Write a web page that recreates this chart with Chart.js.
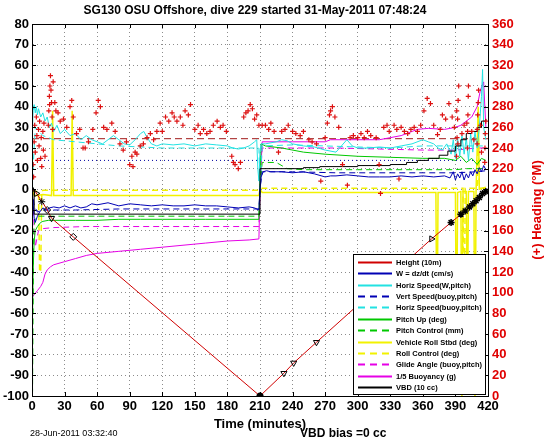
<!DOCTYPE html>
<html>
<head>
<meta charset="utf-8">
<script src="https://cdn.jsdelivr.net/npm/chart.js@4.4.1/dist/chart.umd.min.js"></script>
<style>
  html, body { margin: 0; padding: 0; background: #fff; }
  #wrap { width: 546px; height: 442px; }
</style>
</head>
<body>
<div id="wrap"><canvas id="diveChart" width="546" height="442"></canvas></div>
<script>
// ---- data (time in minutes, values in left-axis units unless noted) ----
const heightTime = [0, 3, 8, 13, 18, 38, 210, 232, 241, 262, 368, 386, 400, 410, 418];
const heightVals = [0, -1, -5, -9, -14, -23, -100, -89, -84, -74, -24, -16, -10, -5, -1];

const markerTime = [0, 4, 9, 14, 18, 38, 210, 232, 241, 262, 368, 386, 395, 399, 403, 406, 409, 412, 415, 418];
const markerVals = [0, -2, -6, -10, -14, -23, -100, -89, -84, -74, -24, -16, -12, -10.5, -8.5, -7, -5.5, -4, -2, -1];

const wTime = [0, 1, 2, 3, 5, 7, 10, 13, 16, 20, 25, 30, 35, 40, 45, 50, 55, 60, 70, 80, 90, 100, 110, 120, 130, 140, 150, 160, 170, 180, 190, 200, 205, 209, 210, 211, 213, 216, 220, 230, 240, 250, 260, 270, 275, 280, 290, 300, 310, 320, 330, 340, 350, 360, 370, 380, 385, 388, 390, 392, 394, 396, 398, 400, 402, 404, 406, 408, 410, 412, 414, 416, 418];
const wVals = [0, -6, -14, -16, -13, -11, -9, -10, -9, -8.5, -9, -8, -9, -8, -9, -8.5, -7, -7.5, -6.5, -8, -7, -7.5, -8, -7.5, -8, -8, -7.5, -8, -8, -8.5, -9, -8.5, -9, -10, 0, 6, 8.5, 9, 8.5, 8.5, 8, 8.5, 7.5, 6, 6.5, 6.5, 7, 6.5, 6, 6, 6, 6.5, 6, 6.5, 6, 6.5, 5.5, 8.5, 4.5, 7.5, 5.5, 8.5, 4.5, 7.5, 5.5, 8.5, 6.5, 9.5, 7.5, 10.5, 8.5, 11.5, 9.5];

const hsTime = [0, 0.5, 1, 2, 3, 4, 5, 6, 8, 10, 12, 14, 16, 18, 20, 23, 26, 30, 35, 40, 45, 50, 55, 60, 65, 70, 75, 80, 85, 90, 95, 100, 103, 106, 110, 115, 120, 130, 140, 150, 160, 170, 180, 185, 190, 195, 200, 205, 207, 208, 209, 210, 211, 215, 220, 225, 230, 235, 240, 250, 260, 270, 280, 285, 290, 295, 300, 310, 320, 330, 340, 350, 360, 365, 370, 374, 378, 382, 386, 388, 390, 392, 394, 396, 398, 400, 402, 404, 406, 408, 410, 412, 414, 415, 416, 418];
const hsVals = [0, 30, 38, 41, 37, 40, 36, 39, 35, 37, 33, 35, 30, 32, 28, 31, 27, 29, 26, 27, 24, 26, 24, 23, 22, 24, 26, 24, 22, 21.5, 24, 27, 28, 25, 22, 21, 22, 21.5, 22, 21, 22, 21.5, 21, 20, 19.5, 20, 21, 23, 24, 10, 4, 18, 22, 22, 22.5, 23, 24, 23.5, 22, 21, 20.5, 19, 18, 21, 24, 21, 20, 20, 20.5, 20, 21, 22, 24, 23, 22, 20, 19, 22, 17, 24, 15, 25, 16, 26, 17, 25, 14, 27, 18, 28, 20, 30, 45, 58, 30, 24];

const vsTime = [0, 2, 5, 10, 20, 40, 80, 120, 160, 200, 209, 210, 212, 240, 280, 320, 360, 390, 410, 418];
const vsVals = [0, -8, -11, -10, -10, -10, -9.5, -9.5, -9.5, -9.5, -9.5, 0, 8.5, 8.5, 8, 8, 8, 8, 8.5, 9];

const hbTime = [0, 3, 10, 20, 40, 60, 80, 100, 120, 140, 160, 180, 200, 209, 210, 212, 240, 270, 300, 330, 360, 380, 400, 418];
const hbVals = [0, 30, 26, 24, 23, 22, 21, 20.5, 20, 20, 20, 20, 20, 20, 0, 21, 21.5, 21, 20.5, 20, 21, 21, 21, 21];

const pitchTime = [0, 0.3, 1, 2, 3, 5, 8, 10, 15, 20, 40, 60, 80, 100, 120, 140, 160, 180, 200, 209, 210, 211, 215, 230, 250, 270, 300, 330, 360, 380, 390, 395, 400, 405, 410, 414, 418];
const pitchVals = [0, -70, -40, -25, -20, -18, -16, -15.5, -15, -15, -15, -15, -14.5, -14.5, -14.5, -14.5, -14.5, -14.5, -14.5, -14.5, 5, 22, 21, 20, 18, 17, 16, 15.5, 15, 15, 14, 16, 13, 15, 12, 15, 14];

const pcTime = [0, 0.5, 1.5, 3, 6, 10, 20, 60, 100, 150, 200, 209, 210, 212, 225, 235, 250, 300, 350, 390, 400, 410, 418];
const pcVals = [0, -98, -20, -14, -13, -13, -13, -13, -13, -13, -13, -13, 0, 13, 13, 10, 9.5, 9.5, 9.5, 9.5, 10, 10, 10];

const rollTime = [0, 2, 5, 10, 18, 19, 20, 30, 36, 37, 38, 50, 100, 150, 200, 209, 210, 212, 250, 300, 350, 372, 373, 374, 380, 390, 391, 392, 395, 396, 397, 400, 401, 402, 407, 408, 409, 411, 412, 418];
const rollVals = [0, -3, -3, -2.5, -3, 38, -3, -3, -3, 38, -3, -3, -3, -3, -3, -3, 0, -1.5, -1.5, -1.5, -1.5, -1.5, -80, -1.5, -1.5, -1.5, -90, -1.5, -1, -100, -1, -1, -70, -1, -1, -100, -1, 40, 0, 1];

const rcTime = [0, 3, 6, 7, 8, 9, 10, 20, 60, 120, 180, 209, 210, 212, 250, 300, 350, 390, 397, 398, 399, 405, 410, 411, 412, 418];
const rcVals = [0, -1, -1, -40, -40, -1, -0.5, -0.5, -0.5, -0.5, -0.5, -0.5, 0, 0.5, 0.5, 0.5, 0.5, 0.5, 0.5, -90, 0.5, 0.5, 0.5, 30, 0.5, 0.5];

const glideTime = [0, 3, 6, 10, 20, 50, 100, 150, 200, 209, 210, 212, 240, 280, 320, 360, 390, 400, 410, 418];
const glideVals = [0, -28, -20, -19, -18.5, -18, -18, -18, -18, -18, 0, 20, 20, 20, 19.5, 19, 19, 19.5, 20, 20];

const buoyTime = [0, 0.5, 2, 5, 8, 10, 12, 14, 17, 20, 30, 40, 50, 60, 80, 100, 120, 140, 160, 180, 200, 209, 210, 212, 240, 270, 275, 300, 320, 340, 355, 365, 380, 390, 395, 400, 405, 410, 413, 416, 418];
const buoyVals = [0, -52, -51, -49, -47, -45, -41, -39, -37.5, -36.5, -35, -33.5, -32, -31, -30, -29, -28, -27, -26, -25, -24.5, -24, 0, 23, 23, 23, 24, 24, 24, 26, 29, 29.5, 29, 30, 31, 33, 35, 40, 48, 52, 30];

const vbdTime = [0, 2, 210, 250, 265, 300, 330, 345, 355, 365, 375, 383, 390, 395, 400, 405, 410, 414, 418];
const vbdVals = [0, -12, 10, 10.5, 11, 11.5, 12, 13, 14, 15, 16.5, 18.5, 21, 24, 27, 28, 30, 33, 34];

// heading, right axis, degrees magnetic
const headingTime = [1, 1.5, 2, 2.5, 3, 4, 4.5, 5, 6, 6.5, 7, 8, 8.5, 9, 10, 10.5, 11, 12, 15, 15.5, 16, 16.2, 16.5, 17, 17.5, 18, 18.5, 19, 19.5, 21, 22, 24, 26, 29, 32, 35, 36.6, 38, 41, 44, 47, 49, 52, 56, 59, 61, 63, 66, 69, 73.5, 76.6, 81, 84, 87, 90, 92, 93, 95, 96.6, 99.7, 102.6, 106, 109, 112, 115, 118, 120, 123, 126, 129, 131, 133.5, 136.6, 139, 141, 144, 146, 150, 153, 155, 158, 161, 164, 167, 170.5, 173.5, 176, 179, 184, 185.5, 187, 190, 192, 195, 197, 199, 201, 203, 205, 207, 209, 212, 215, 218, 220, 223, 227, 230, 233, 236, 240, 243, 247, 250, 255, 258, 262, 266, 270, 272, 274, 275, 276.7, 279, 282.5, 286, 290.5, 293, 296, 300, 303, 306, 309, 312, 317, 319.7, 321, 324, 327, 329, 333.5, 336, 338, 340, 343, 346, 349, 352, 355, 358, 361, 364, 367, 370, 373.5, 376, 378, 381, 384, 387, 389, 391, 391.2, 391.5, 392, 392.2, 392.5, 393, 396, 398, 400.5, 401, 401.2, 401.5, 401.8, 402, 405, 407, 410, 410.2, 410.5, 411, 411.3, 413, 414, 417, 417.2, 417.5, 418];
const headingDeg = [224, 212, 246, 262, 236, 270, 252, 228, 258, 242, 266, 230, 250, 222, 256, 238, 264, 232, 262, 276, 290, 282, 300, 310, 296, 284, 270, 258, 304, 284, 276, 274, 266, 268, 260, 280, 286, 270, 254, 258, 240, 240, 246, 258, 274, 286, 280, 260, 258, 264, 256, 244, 238, 246, 224, 232, 222, 236, 234, 242, 244, 250, 254, 248, 256, 264, 256, 270, 266, 274, 270, 266, 270, 262, 276, 272, 282, 258, 262, 254, 258, 254, 256, 262, 266, 260, 262, 256, 232, 226, 224, 220, 226, 270, 274, 276, 282, 278, 268, 272, 262, 262, 262, 258, 264, 256, 236, 256, 258, 262, 256, 254, 252, 256, 248, 246, 244, 208, 250, 264, 272, 276, 280, 270, 260, 224, 204, 250, 252, 250, 254, 250, 256, 252, 250, 224, 196, 260, 262, 256, 262, 258, 210, 260, 256, 254, 258, 260, 256, 262, 276, 288, 283, 262, 253, 258, 272, 268, 283, 270, 260, 232, 276, 250, 268, 244, 286, 300, 254, 262, 264, 240, 256, 272, 290, 300, 256, 248, 244, 258, 272, 284, 296, 262, 236, 226, 240, 254, 266];

const headingTargetTime = [0, 420];
const headingTargetDeg = [249, 249];
const wDesiredTime = [0, 420];
const wDesiredVals = [14, 14];

const xTicks = { min: 0, max: 420, step: 30 };
const yTicks = { min: -100, max: 80, step: 10 };
const y2Ticks = { min: 0, max: 360, step: 20 };

// ---- helpers ----
const pts = (ts, vs) => ts.map((t, i) => ({ x: t, y: vs[i] }));
const FONT = '"Liberation Sans", Arial, Helvetica, sans-serif';
Chart.defaults.font.family = FONT;

function line(label, ts, vs, color, extra) {
  return Object.assign({
    label: label,
    data: pts(ts, vs),
    borderColor: color,
    backgroundColor: color,
    borderWidth: 1,
    pointRadius: 0,
    tension: 0,
    yAxisID: 'y'
  }, extra || {});
}

const DASH = [6, 4];
const datasets = [
  line('Height (10m)', heightTime, heightVals, '#d00000', { order: 2 }),
  line('W = dz/dt (cm/s)', wTime, wVals, '#0000b4', { order: 3 }),
  line('Horiz Speed(W,pitch)', hsTime, hsVals, '#22e2e2', { order: 4 }),
  line('Vert Speed(buoy,pitch)', vsTime, vsVals, '#0000b4', { borderDash: DASH, order: 5 }),
  line('Horiz Speed(buoy,pitch)', hbTime, hbVals, '#22e2e2', { borderDash: DASH, order: 6 }),
  line('Pitch Up (deg)', pitchTime, pitchVals, '#00c800', { order: 7 }),
  line('Pitch Control (mm)', pcTime, pcVals, '#00c800', { borderDash: DASH, order: 8 }),
  line('Vehicle Roll Stbd (deg)', rollTime, rollVals, '#f2f200', { borderWidth: 1.5, order: 9 }),
  line('Roll Control (deg)', rcTime, rcVals, '#f2f200', { borderDash: DASH, borderWidth: 1.5, order: 10 }),
  line('Glide Angle (buoy,pitch)', glideTime, glideVals, '#e600e6', { borderDash: DASH, order: 11 }),
  line('1/5 Buoyancy (g)', buoyTime, buoyVals, '#e600e6', { order: 12 }),
  line('VBD (10 cc)', vbdTime, vbdVals, '#000000', { stepped: true, order: 1 }),
  line('w desired', wDesiredTime, wDesiredVals, '#0000a0', { borderDash: [1, 3], hideLegend: true, order: 14 }),
  line('heading target', headingTargetTime, headingTargetDeg, '#a01818', { borderDash: [7, 4], yAxisID: 'y2', hideLegend: true, order: 13 }),
  line('heading', headingTime, headingDeg, '#dd1111', {
    yAxisID: 'y2', showLine: false, pointStyle: 'cross', pointRadius: 2.5, borderWidth: 1.2, hideLegend: true, order: 0
  }),
  line('markers', markerTime, markerVals, '#000000', {
    showLine: false, hideLegend: true, order: -1, borderWidth: 1, pointRadius: 3.5,
    pointStyle: ['triangle', 'triangle', 'star', 'rectRot', 'triangle', 'rectRot', 'star', 'triangle', 'triangle', 'triangle', 'triangle', 'star', 'star', 'star', 'star', 'star', 'star', 'star', 'star', 'star'],
    pointRotation: [0, 90, 0, 0, 180, 0, 0, 180, 180, 180, 90, 0, 0, 0, 0, 0, 0, 0, 0, 0],
    backgroundColor: ['rgba(0,0,0,0)', 'rgba(0,0,0,0)', '#000', 'rgba(0,0,0,0)', 'rgba(0,0,0,0)', 'rgba(0,0,0,0)', '#000', 'rgba(0,0,0,0)', 'rgba(0,0,0,0)', 'rgba(0,0,0,0)', 'rgba(0,0,0,0)', '#000', '#000', '#000', '#000', '#000', '#000', '#000', '#000', '#000'],
    pointBorderWidth: [1, 1, 1, 1, 1, 1, 2.5, 1, 1, 1, 1, 1.5, 1.5, 1.5, 1.5, 1.5, 1.5, 1.5, 1.5, 1.5]
  })
];

// frame + inward ticks like matlab axes
const framePlugin = {
  id: 'frame',
  afterDatasetsDraw(chart) {
    const { ctx, chartArea: a, scales } = chart;
    ctx.save();
    ctx.strokeStyle = '#000';
    ctx.lineWidth = 1;
    ctx.strokeRect(Math.round(a.left) + 0.5, Math.round(a.top) + 0.5, Math.round(a.right - a.left), Math.round(a.bottom - a.top));
    ctx.beginPath();
    scales.x.ticks.forEach(t => {
      const px = Math.round(scales.x.getPixelForValue(t.value)) + 0.5;
      ctx.moveTo(px, a.bottom); ctx.lineTo(px, a.bottom - 4);
      ctx.moveTo(px, a.top); ctx.lineTo(px, a.top + 4);
    });
    scales.y.ticks.forEach(t => {
      const py = Math.round(scales.y.getPixelForValue(t.value)) + 0.5;
      ctx.moveTo(a.left, py); ctx.lineTo(a.left + 4, py);
    });
    scales.y2.ticks.forEach(t => {
      const py = Math.round(scales.y2.getPixelForValue(t.value)) + 0.5;
      ctx.moveTo(a.right, py); ctx.lineTo(a.right - 4, py);
    });
    ctx.stroke();
    ctx.restore();
  }
};

const boxLegend = {
  id: 'boxLegend',
  afterDatasetsDraw(chart) {
    const { ctx, chartArea: a } = chart;
    const items = chart.data.datasets.filter(d => !d.hideLegend);
    const rowH = 11.4;
    const w = 132, h = Math.round(items.length * rowH + 3);
    const x0 = Math.round(a.right - w - 3), y0 = Math.round(a.bottom - h - 2);
    ctx.save();
    ctx.fillStyle = '#fff';
    ctx.fillRect(x0, y0, w, h);
    ctx.strokeStyle = '#000';
    ctx.lineWidth = 1;
    ctx.strokeRect(x0 + 0.5, y0 + 0.5, w, h);
    ctx.font = 'bold 7.5px ' + FONT;
    ctx.textBaseline = 'middle';
    items.forEach((d, i) => {
      const y = Math.round(y0 + 2 + rowH * (i + 0.5)) + 0.5;
      ctx.beginPath();
      ctx.setLineDash(d.borderDash ? [7, 5] : []);
      ctx.strokeStyle = d.borderColor;
      ctx.lineWidth = 2;
      ctx.moveTo(x0 + 5, y);
      ctx.lineTo(x0 + 39, y);
      ctx.stroke();
      ctx.setLineDash([]);
      ctx.fillStyle = '#000';
      ctx.fillText(d.label, x0 + 43, y);
    });
    ctx.restore();
  }
};

const textPlugin = {
  id: 'texts',
  afterDraw(chart) {
    const { ctx, chartArea: a } = chart;
    ctx.save();
    ctx.fillStyle = '#000';
    ctx.textAlign = 'center';
    ctx.textBaseline = 'middle';
    ctx.font = 'bold 12px ' + FONT;
    ctx.fillText('SG130 OSU Offshore, dive 229 started 31-May-2011 07:48:24', 255, 11);
    ctx.textAlign = 'left';
    ctx.font = '9px ' + FONT;
    ctx.fillText('28-Jun-2011 03:32:40', 30, 434);
    ctx.font = 'bold 12px ' + FONT;
    ctx.fillText('VBD bias =0 cc', 300, 434);
    ctx.translate(537, (a.top + a.bottom) / 2);
    ctx.rotate(-Math.PI / 2);
    ctx.textAlign = 'center';
    ctx.fillStyle = '#e00000';
    ctx.font = 'bold 13px ' + FONT;
    ctx.fillText('(+) Heading (\u00B0M)', 0, 0);
    ctx.restore();
  }
};

const gridDots = { color: '#8c8c8c', drawTicks: false, lineWidth: 1 };
const tickFont = { weight: 'bold', size: 13 };

new Chart(document.getElementById('diveChart'), {
  type: 'line',
  data: { datasets: datasets },
  options: {
    responsive: false,
    animation: false,
    layout: { padding: { top: 24, bottom: 10, left: 0, right: 0 } },
    plugins: { legend: { display: false }, tooltip: { enabled: false }, title: { display: false } },
    scales: {
      x: {
        type: 'linear', min: xTicks.min, max: xTicks.max,
        ticks: { stepSize: xTicks.step, autoSkip: false, maxRotation: 0, color: '#000', font: tickFont, padding: 3 },
        grid: gridDots,
        border: { color: '#000', dash: [1, 3] },
        title: { display: true, text: 'Time (minutes)', color: '#000', font: tickFont, padding: { top: 0, bottom: 0 } },
        afterFit(s) { s.height = 36; }
      },
      y: {
        type: 'linear', position: 'left', min: yTicks.min, max: yTicks.max,
        ticks: { stepSize: yTicks.step, autoSkip: false, color: '#000', font: tickFont, padding: 3 },
        grid: gridDots,
        border: { color: '#000', dash: [1, 3] },
        afterFit(s) { s.width = 32; }
      },
      y2: {
        type: 'linear', position: 'right', min: y2Ticks.min, max: y2Ticks.max,
        ticks: { stepSize: y2Ticks.step, autoSkip: false, color: '#e00000', font: tickFont, padding: 4 },
        grid: { drawOnChartArea: false, drawTicks: false },
        border: { color: '#000' },
        afterFit(s) { s.width = 58; }
      }
    }
  },
  plugins: [framePlugin, boxLegend, textPlugin]
});
</script>
</body>
</html>
